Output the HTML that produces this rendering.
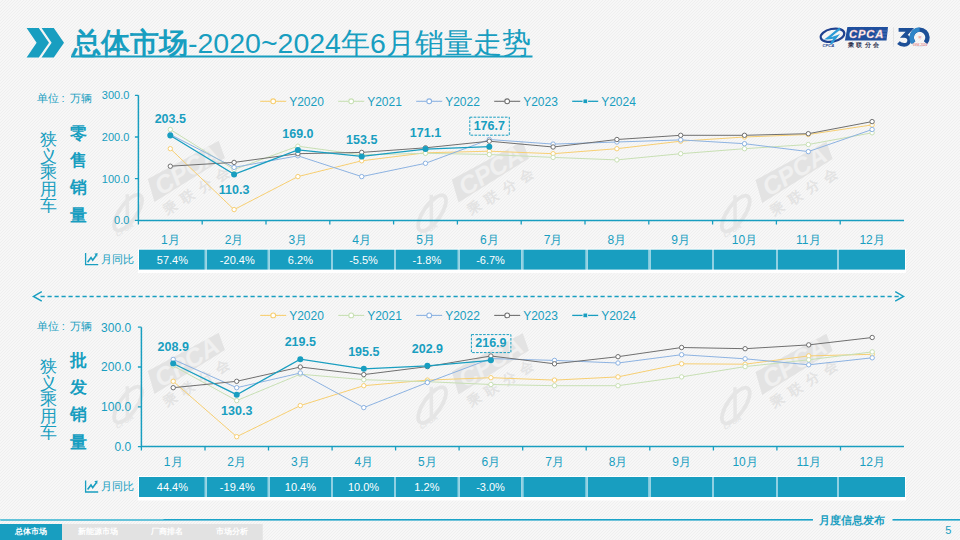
<!DOCTYPE html>
<html><head><meta charset="utf-8">
<style>
html,body{margin:0;padding:0;}
body{width:960px;height:540px;overflow:hidden;position:relative;font-family:"Liberation Sans",sans-serif;
background-color:#f6f6f6;}
svg{position:absolute;left:0;top:0;}
text{font-family:"Liberation Sans",sans-serif;}
</style></head><body>
<svg width="960" height="540" viewBox="0 0 960 540">
<defs>
<pattern id="bgp" x="0" y="0" width="3" height="3" patternUnits="userSpaceOnUse">
<rect width="3" height="3" fill="#f7f7f7"/>
<rect x="0" y="2" width="1" height="1" fill="#efefef"/><rect x="1" y="1" width="1" height="1" fill="#efefef"/><rect x="2" y="0" width="1" height="1" fill="#efefef"/>
</pattern>
<g id="wm">
<path d="M0 0L83 0L87 -18L6.5 -23Z" fill="#e3e3e3"/>
<text x="9" y="-1.5" font-size="25" font-style="italic" font-weight="bold" fill="#f0f0f0" style="font-family:'Liberation Sans',sans-serif">CPCA</text>
<text x="3.5" y="17.5" font-size="13.5" font-weight="bold" fill="#e3e3e3" letter-spacing="6.5">乘联分会</text>
<ellipse cx="-28" cy="-5" rx="21" ry="8.5" transform="rotate(-23 -28 -5)" fill="none" stroke="#e5e5e5" stroke-width="3.8"/>
<path d="M-19 -21C-24 -13 -30 -3 -37 8" stroke="#e6e6e6" stroke-width="3.5" fill="none"/>
<text x="-40" y="10" font-size="7" font-style="italic" font-weight="bold" fill="#e6e6e6" text-anchor="middle">CPCA</text>
</g>
</defs>
<rect width="960" height="540" fill="url(#bgp)" shape-rendering="crispEdges"/>
<use href="#wm" transform="translate(154.5 202) rotate(-32)"/>
<use href="#wm" transform="translate(458.5 202.5) rotate(-32)"/>
<use href="#wm" transform="translate(762.2 203) rotate(-32)"/>
<use href="#wm" transform="translate(154.5 394) rotate(-32)"/>
<use href="#wm" transform="translate(458.5 394.5) rotate(-32)"/>
<use href="#wm" transform="translate(762.2 395) rotate(-32)"/>
<!-- logo -->
<g>
<ellipse cx="832.5" cy="35.2" rx="12" ry="6.3" transform="rotate(-12 832.5 35.2)" fill="none" stroke="#20418f" stroke-width="2.2"/>
<path d="M840 28.5C836 31 831 36 827.5 38.5C831 38.5 834 37.5 836.5 36.5C834.5 39 832.5 41.5 831 44" stroke="#2b9ad6" stroke-width="2.2" fill="none"/>
<text x="822.5" y="47.2" font-size="4.2" font-style="italic" font-weight="bold" fill="#20418f">CPCA</text>
<path d="M847.4 27H888L886.5 40.4H844.9Z" fill="#1f4f9e"/>
<path d="M876 31H887.5M875 34H887M874 37H886.5" stroke="#4d78bb" stroke-width="1"/>
<text x="849" y="38.3" font-size="11.2" font-style="italic" font-weight="bold" letter-spacing="0.9" fill="#fff" stroke="#e9a0a0" stroke-width="0.3">CPCA</text>
<text x="848" y="47.3" font-size="6.3" font-weight="bold" fill="#2b2f4d" letter-spacing="2.4">乘联分会</text>
<rect x="893" y="27" width="0.8" height="20" fill="#e0e0e0"/>
<path d="M898.6 29.9H909.8L904.2 35.9C907.6 35.9 909.2 38 909.2 40.4C909.2 43.2 907 44.8 904.2 44.8C901.8 44.8 899.8 44 898.4 42.6" stroke="#1d4f97" stroke-width="3.7" fill="none"/>
<path d="M913.7 42.8A7.9 7.9 0 1 1 925.5 42.8" stroke="#1d4f97" stroke-width="4.4" fill="none"/>
<path d="M913.7 42.8A7.9 7.9 0 0 1 919.6 29.6" stroke="#2f86c8" stroke-width="4.4" fill="none"/>
<path d="M912.5 43.5A9.5 9.5 0 0 0 926.7 43.5" stroke="#d8e6f2" stroke-width="0.8" fill="none"/>
<text x="919.5" y="39.2" font-size="4" fill="#e05a5a" text-anchor="middle">年</text>
<text x="920" y="46.4" font-size="3" fill="#e05a5a" text-anchor="middle">1994-2024</text>
</g>
<!-- title -->
<path d="M26.6 28H38.8L49 42.7L38.8 57.5H26.6L36.6 42.7Z M41.6 28H53.8L64 42.7L53.8 57.5H41.6L51.6 42.7Z" fill="#189ec0"/>
<text x="72" y="52.5" font-size="28.5" fill="#189ec0"><tspan font-weight="bold">总体市场</tspan>-2020~2024年6月销量走势</text>
<rect x="71" y="55.5" width="461.5" height="2" fill="#189ec0"/>
<!-- left labels -->
<text y="102" font-size="11" fill="#189ec0"><tspan x="37">单位</tspan><tspan x="61.5">:</tspan><tspan x="69.5">万辆</tspan></text>
<text y="329.8" font-size="11" fill="#189ec0"><tspan x="37.3">单位</tspan><tspan x="61.8">:</tspan><tspan x="69.8">万辆</tspan></text>
<path d="M138.4 95.3V220.4H904.0" stroke="#189ec0" stroke-width="1.5" fill="none"/>
<path d="M134.9 95.3H138.4M134.9 137.0H138.4M134.9 178.7H138.4M134.9 220.4H138.4M138.4 220.4V224.4M202.2 220.4V224.4M266.0 220.4V224.4M329.8 220.4V224.4M393.6 220.4V224.4M457.4 220.4V224.4M521.2 220.4V224.4M585.0 220.4V224.4M648.8 220.4V224.4M712.6 220.4V224.4M776.4 220.4V224.4M840.2 220.4V224.4" stroke="#189ec0" stroke-width="1.3" fill="none"/>
<text x="129.4" y="99.3" text-anchor="end" font-size="11" fill="#189ec0">300.0</text>
<text x="129.4" y="141.0" text-anchor="end" font-size="11" fill="#189ec0">200.0</text>
<text x="129.4" y="182.7" text-anchor="end" font-size="11" fill="#189ec0">100.0</text>
<text x="129.4" y="224.4" text-anchor="end" font-size="11" fill="#189ec0">0.0</text>
<text x="170.3" y="244.2" text-anchor="middle" font-size="12" fill="#189ec0">1月</text>
<text x="234.1" y="244.2" text-anchor="middle" font-size="12" fill="#189ec0">2月</text>
<text x="297.9" y="244.2" text-anchor="middle" font-size="12" fill="#189ec0">3月</text>
<text x="361.7" y="244.2" text-anchor="middle" font-size="12" fill="#189ec0">4月</text>
<text x="425.5" y="244.2" text-anchor="middle" font-size="12" fill="#189ec0">5月</text>
<text x="489.3" y="244.2" text-anchor="middle" font-size="12" fill="#189ec0">6月</text>
<text x="553.1" y="244.2" text-anchor="middle" font-size="12" fill="#189ec0">7月</text>
<text x="616.9" y="244.2" text-anchor="middle" font-size="12" fill="#189ec0">8月</text>
<text x="680.7" y="244.2" text-anchor="middle" font-size="12" fill="#189ec0">9月</text>
<text x="744.5" y="244.2" text-anchor="middle" font-size="12" fill="#189ec0">10月</text>
<text x="808.3" y="244.2" text-anchor="middle" font-size="12" fill="#189ec0">11月</text>
<text x="872.1" y="244.2" text-anchor="middle" font-size="12" fill="#189ec0">12月</text>
<polyline points="170.3,148.7 234.1,209.6 297.9,176.6 361.7,160.8 425.5,152.8 489.3,151.2 553.1,153.7 616.9,148.7 680.7,141.2 744.5,137.0 808.3,134.5 872.1,124.9" stroke="#f7cf72" stroke-width="1.0" fill="none"/>
<circle cx="170.3" cy="148.7" r="2.2" fill="#fff" stroke="#f7cf72" stroke-width="1.0"/>
<circle cx="234.1" cy="209.6" r="2.2" fill="#fff" stroke="#f7cf72" stroke-width="1.0"/>
<circle cx="297.9" cy="176.6" r="2.2" fill="#fff" stroke="#f7cf72" stroke-width="1.0"/>
<circle cx="361.7" cy="160.8" r="2.2" fill="#fff" stroke="#f7cf72" stroke-width="1.0"/>
<circle cx="425.5" cy="152.8" r="2.2" fill="#fff" stroke="#f7cf72" stroke-width="1.0"/>
<circle cx="489.3" cy="151.2" r="2.2" fill="#fff" stroke="#f7cf72" stroke-width="1.0"/>
<circle cx="553.1" cy="153.7" r="2.2" fill="#fff" stroke="#f7cf72" stroke-width="1.0"/>
<circle cx="616.9" cy="148.7" r="2.2" fill="#fff" stroke="#f7cf72" stroke-width="1.0"/>
<circle cx="680.7" cy="141.2" r="2.2" fill="#fff" stroke="#f7cf72" stroke-width="1.0"/>
<circle cx="744.5" cy="137.0" r="2.2" fill="#fff" stroke="#f7cf72" stroke-width="1.0"/>
<circle cx="808.3" cy="134.5" r="2.2" fill="#fff" stroke="#f7cf72" stroke-width="1.0"/>
<circle cx="872.1" cy="124.9" r="2.2" fill="#fff" stroke="#f7cf72" stroke-width="1.0"/>
<polyline points="170.3,129.5 234.1,169.5 297.9,146.2 361.7,154.9 425.5,153.3 489.3,154.5 553.1,157.4 616.9,159.9 680.7,153.7 744.5,148.7 808.3,144.5 872.1,132.8" stroke="#c8e0b4" stroke-width="1.0" fill="none"/>
<circle cx="170.3" cy="129.5" r="2.2" fill="#fff" stroke="#c8e0b4" stroke-width="1.0"/>
<circle cx="234.1" cy="169.5" r="2.2" fill="#fff" stroke="#c8e0b4" stroke-width="1.0"/>
<circle cx="297.9" cy="146.2" r="2.2" fill="#fff" stroke="#c8e0b4" stroke-width="1.0"/>
<circle cx="361.7" cy="154.9" r="2.2" fill="#fff" stroke="#c8e0b4" stroke-width="1.0"/>
<circle cx="425.5" cy="153.3" r="2.2" fill="#fff" stroke="#c8e0b4" stroke-width="1.0"/>
<circle cx="489.3" cy="154.5" r="2.2" fill="#fff" stroke="#c8e0b4" stroke-width="1.0"/>
<circle cx="553.1" cy="157.4" r="2.2" fill="#fff" stroke="#c8e0b4" stroke-width="1.0"/>
<circle cx="616.9" cy="159.9" r="2.2" fill="#fff" stroke="#c8e0b4" stroke-width="1.0"/>
<circle cx="680.7" cy="153.7" r="2.2" fill="#fff" stroke="#c8e0b4" stroke-width="1.0"/>
<circle cx="744.5" cy="148.7" r="2.2" fill="#fff" stroke="#c8e0b4" stroke-width="1.0"/>
<circle cx="808.3" cy="144.5" r="2.2" fill="#fff" stroke="#c8e0b4" stroke-width="1.0"/>
<circle cx="872.1" cy="132.8" r="2.2" fill="#fff" stroke="#c8e0b4" stroke-width="1.0"/>
<polyline points="170.3,134.5 234.1,167.4 297.9,155.8 361.7,176.6 425.5,163.3 489.3,139.5 553.1,144.1 616.9,142.0 680.7,139.9 744.5,143.7 808.3,151.6 872.1,129.5" stroke="#8db3e2" stroke-width="1.0" fill="none"/>
<circle cx="170.3" cy="134.5" r="2.2" fill="#fff" stroke="#8db3e2" stroke-width="1.0"/>
<circle cx="234.1" cy="167.4" r="2.2" fill="#fff" stroke="#8db3e2" stroke-width="1.0"/>
<circle cx="297.9" cy="155.8" r="2.2" fill="#fff" stroke="#8db3e2" stroke-width="1.0"/>
<circle cx="361.7" cy="176.6" r="2.2" fill="#fff" stroke="#8db3e2" stroke-width="1.0"/>
<circle cx="425.5" cy="163.3" r="2.2" fill="#fff" stroke="#8db3e2" stroke-width="1.0"/>
<circle cx="489.3" cy="139.5" r="2.2" fill="#fff" stroke="#8db3e2" stroke-width="1.0"/>
<circle cx="553.1" cy="144.1" r="2.2" fill="#fff" stroke="#8db3e2" stroke-width="1.0"/>
<circle cx="616.9" cy="142.0" r="2.2" fill="#fff" stroke="#8db3e2" stroke-width="1.0"/>
<circle cx="680.7" cy="139.9" r="2.2" fill="#fff" stroke="#8db3e2" stroke-width="1.0"/>
<circle cx="744.5" cy="143.7" r="2.2" fill="#fff" stroke="#8db3e2" stroke-width="1.0"/>
<circle cx="808.3" cy="151.6" r="2.2" fill="#fff" stroke="#8db3e2" stroke-width="1.0"/>
<circle cx="872.1" cy="129.5" r="2.2" fill="#fff" stroke="#8db3e2" stroke-width="1.0"/>
<polyline points="170.3,166.2 234.1,162.4 297.9,153.7 361.7,152.4 425.5,147.8 489.3,141.2 553.1,147.0 616.9,139.5 680.7,135.3 744.5,135.3 808.3,133.7 872.1,121.6" stroke="#6f6f6f" stroke-width="1.0" fill="none"/>
<circle cx="170.3" cy="166.2" r="2.2" fill="#fff" stroke="#6f6f6f" stroke-width="1.0"/>
<circle cx="234.1" cy="162.4" r="2.2" fill="#fff" stroke="#6f6f6f" stroke-width="1.0"/>
<circle cx="297.9" cy="153.7" r="2.2" fill="#fff" stroke="#6f6f6f" stroke-width="1.0"/>
<circle cx="361.7" cy="152.4" r="2.2" fill="#fff" stroke="#6f6f6f" stroke-width="1.0"/>
<circle cx="425.5" cy="147.8" r="2.2" fill="#fff" stroke="#6f6f6f" stroke-width="1.0"/>
<circle cx="489.3" cy="141.2" r="2.2" fill="#fff" stroke="#6f6f6f" stroke-width="1.0"/>
<circle cx="553.1" cy="147.0" r="2.2" fill="#fff" stroke="#6f6f6f" stroke-width="1.0"/>
<circle cx="616.9" cy="139.5" r="2.2" fill="#fff" stroke="#6f6f6f" stroke-width="1.0"/>
<circle cx="680.7" cy="135.3" r="2.2" fill="#fff" stroke="#6f6f6f" stroke-width="1.0"/>
<circle cx="744.5" cy="135.3" r="2.2" fill="#fff" stroke="#6f6f6f" stroke-width="1.0"/>
<circle cx="808.3" cy="133.7" r="2.2" fill="#fff" stroke="#6f6f6f" stroke-width="1.0"/>
<circle cx="872.1" cy="121.6" r="2.2" fill="#fff" stroke="#6f6f6f" stroke-width="1.0"/>
<polyline points="170.3,135.5 234.1,174.4 297.9,149.9 361.7,156.4 425.5,149.1 489.3,146.7" stroke="#189ec0" stroke-width="1.3" fill="none"/>
<circle cx="170.3" cy="135.5" r="3.0" fill="#189ec0"/>
<circle cx="234.1" cy="174.4" r="3.0" fill="#189ec0"/>
<circle cx="297.9" cy="149.9" r="3.0" fill="#189ec0"/>
<circle cx="361.7" cy="156.4" r="3.0" fill="#189ec0"/>
<circle cx="425.5" cy="149.1" r="3.0" fill="#189ec0"/>
<circle cx="489.3" cy="146.7" r="3.0" fill="#189ec0"/>
<text x="170.3" y="123.0" text-anchor="middle" font-size="12.5" font-weight="bold" fill="#189ec0">203.5</text>
<text x="234.1" y="194.4" text-anchor="middle" font-size="12.5" font-weight="bold" fill="#189ec0">110.3</text>
<text x="297.9" y="137.9" text-anchor="middle" font-size="12.5" font-weight="bold" fill="#189ec0">169.0</text>
<text x="361.7" y="143.6" text-anchor="middle" font-size="12.5" font-weight="bold" fill="#189ec0">153.5</text>
<text x="425.5" y="136.9" text-anchor="middle" font-size="12.5" font-weight="bold" fill="#189ec0">171.1</text>
<text x="489.3" y="129.7" text-anchor="middle" font-size="12.5" font-weight="bold" fill="#189ec0">176.7</text>
<rect x="469.8" y="117.2" width="39.5" height="18" fill="none" stroke="#189ec0" stroke-width="1" stroke-dasharray="2.6 1.3"/>
<line x1="260.2" y1="101.3" x2="286.2" y2="101.3" stroke="#f7cf72" stroke-width="1.1"/>
<circle cx="273.2" cy="101.3" r="2.4" fill="#fff" stroke="#f7cf72" stroke-width="1.1"/>
<text x="289.2" y="105.6" font-size="12" fill="#189ec0">Y2020</text>
<line x1="338.2" y1="101.3" x2="364.2" y2="101.3" stroke="#c8e0b4" stroke-width="1.1"/>
<circle cx="351.2" cy="101.3" r="2.4" fill="#fff" stroke="#c8e0b4" stroke-width="1.1"/>
<text x="367.2" y="105.6" font-size="12" fill="#189ec0">Y2021</text>
<line x1="416.2" y1="101.3" x2="442.2" y2="101.3" stroke="#8db3e2" stroke-width="1.1"/>
<circle cx="429.2" cy="101.3" r="2.4" fill="#fff" stroke="#8db3e2" stroke-width="1.1"/>
<text x="445.2" y="105.6" font-size="12" fill="#189ec0">Y2022</text>
<line x1="494.2" y1="101.3" x2="520.2" y2="101.3" stroke="#6f6f6f" stroke-width="1.1"/>
<circle cx="507.2" cy="101.3" r="2.4" fill="#fff" stroke="#6f6f6f" stroke-width="1.1"/>
<text x="523.2" y="105.6" font-size="12" fill="#189ec0">Y2023</text>
<line x1="572.2" y1="101.3" x2="598.2" y2="101.3" stroke="#189ec0" stroke-width="1.3"/>
<rect x="583.0" y="99.0" width="4.6" height="4.6" rx="1" fill="#189ec0" stroke="#f6f6f6" stroke-width="0.9"/>
<text x="601.2" y="105.6" font-size="12" fill="#189ec0">Y2024</text>
<rect x="138" y="248.7" width="768" height="24.4" fill="#fff"/>
<rect x="139.0" y="249.7" width="65.8" height="19.9" fill="#189ec0"/>
<rect x="206.8" y="249.7" width="61.0" height="19.9" fill="#189ec0"/>
<rect x="269.8" y="249.7" width="61.2" height="19.9" fill="#189ec0"/>
<rect x="333.0" y="249.7" width="61.0" height="19.9" fill="#189ec0"/>
<rect x="396.0" y="249.7" width="61.8" height="19.9" fill="#189ec0"/>
<rect x="459.8" y="249.7" width="61.5" height="19.9" fill="#189ec0"/>
<rect x="523.3" y="249.7" width="62.4" height="19.9" fill="#189ec0"/>
<rect x="587.7" y="249.7" width="60.9" height="19.9" fill="#189ec0"/>
<rect x="650.6" y="249.7" width="61.4" height="19.9" fill="#189ec0"/>
<rect x="714.0" y="249.7" width="62.0" height="19.9" fill="#189ec0"/>
<rect x="778.0" y="249.7" width="59.0" height="19.9" fill="#189ec0"/>
<rect x="839.0" y="249.7" width="66.0" height="19.9" fill="#189ec0"/>
<rect x="204.8" y="249.7" width="2" height="19.9" fill="#8fd0e2"/>
<rect x="267.8" y="249.7" width="2" height="19.9" fill="#8fd0e2"/>
<rect x="331.0" y="249.7" width="2" height="19.9" fill="#8fd0e2"/>
<rect x="394.0" y="249.7" width="2" height="19.9" fill="#8fd0e2"/>
<rect x="457.8" y="249.7" width="2" height="19.9" fill="#8fd0e2"/>
<rect x="521.3" y="249.7" width="2" height="19.9" fill="#8fd0e2"/>
<rect x="585.7" y="249.7" width="2" height="19.9" fill="#8fd0e2"/>
<rect x="648.6" y="249.7" width="2" height="19.9" fill="#8fd0e2"/>
<rect x="712.0" y="249.7" width="2" height="19.9" fill="#8fd0e2"/>
<rect x="776.0" y="249.7" width="2" height="19.9" fill="#8fd0e2"/>
<rect x="837.0" y="249.7" width="2" height="19.9" fill="#8fd0e2"/>
<text x="172.4" y="263.6" text-anchor="middle" font-size="11" fill="#fff">57.4%</text>
<text x="237.3" y="263.6" text-anchor="middle" font-size="11" fill="#fff">-20.4%</text>
<text x="300.4" y="263.6" text-anchor="middle" font-size="11" fill="#fff">6.2%</text>
<text x="363.5" y="263.6" text-anchor="middle" font-size="11" fill="#fff">-5.5%</text>
<text x="426.9" y="263.6" text-anchor="middle" font-size="11" fill="#fff">-1.8%</text>
<text x="490.5" y="263.6" text-anchor="middle" font-size="11" fill="#fff">-6.7%</text>
<text x="48.2" y="145.0" text-anchor="middle" font-size="17" fill="#189ec0" font-weight="300">狭</text>
<text x="48.2" y="161.5" text-anchor="middle" font-size="17" fill="#189ec0" font-weight="300">义</text>
<text x="48.2" y="178.0" text-anchor="middle" font-size="17" fill="#189ec0" font-weight="300">乘</text>
<text x="48.2" y="194.5" text-anchor="middle" font-size="17" fill="#189ec0" font-weight="300">用</text>
<text x="48.2" y="211.0" text-anchor="middle" font-size="17" fill="#189ec0" font-weight="300">车</text>
<text x="78.2" y="139.0" text-anchor="middle" font-size="17" font-weight="bold" fill="#189ec0">零</text>
<text x="78.2" y="166.2" text-anchor="middle" font-size="17" font-weight="bold" fill="#189ec0">售</text>
<text x="78.2" y="193.4" text-anchor="middle" font-size="17" font-weight="bold" fill="#189ec0">销</text>
<text x="78.2" y="220.6" text-anchor="middle" font-size="17" font-weight="bold" fill="#189ec0">量</text>
<path d="M85.6 253.1V264.6H98.2" stroke="#189ec0" stroke-width="1.3" fill="none"/>
<path d="M87.6 262.2L91 257.6L92.7 260.2L96.3 255.3" stroke="#189ec0" stroke-width="1.6" fill="none"/>
<path d="M94.3 253.8L97.6 253.0L97.2 256.6Z" fill="#189ec0"/>
<text x="101.2" y="263.0" font-size="11.2" fill="#189ec0" style="font-weight:500">月同比</text>
<path d="M141.4 327.2V446.6H904.0" stroke="#189ec0" stroke-width="1.5" fill="none"/>
<path d="M137.9 327.2H141.4M137.9 367.0H141.4M137.9 406.8H141.4M137.9 446.6H141.4M141.4 446.6V450.6M205.0 446.6V450.6M268.5 446.6V450.6M332.1 446.6V450.6M395.6 446.6V450.6M459.1 446.6V450.6M522.7 446.6V450.6M586.2 446.6V450.6M649.8 446.6V450.6M713.4 446.6V450.6M776.9 446.6V450.6M840.5 446.6V450.6" stroke="#189ec0" stroke-width="1.3" fill="none"/>
<text x="131.1" y="331.6" text-anchor="end" font-size="12" fill="#189ec0">300.0</text>
<text x="131.1" y="371.4" text-anchor="end" font-size="12" fill="#189ec0">200.0</text>
<text x="131.1" y="411.2" text-anchor="end" font-size="12" fill="#189ec0">100.0</text>
<text x="131.1" y="451.0" text-anchor="end" font-size="12" fill="#189ec0">0.0</text>
<text x="173.2" y="466.2" text-anchor="middle" font-size="12" fill="#189ec0">1月</text>
<text x="236.7" y="466.2" text-anchor="middle" font-size="12" fill="#189ec0">2月</text>
<text x="300.3" y="466.2" text-anchor="middle" font-size="12" fill="#189ec0">3月</text>
<text x="363.8" y="466.2" text-anchor="middle" font-size="12" fill="#189ec0">4月</text>
<text x="427.4" y="466.2" text-anchor="middle" font-size="12" fill="#189ec0">5月</text>
<text x="490.9" y="466.2" text-anchor="middle" font-size="12" fill="#189ec0">6月</text>
<text x="554.5" y="466.2" text-anchor="middle" font-size="12" fill="#189ec0">7月</text>
<text x="618.0" y="466.2" text-anchor="middle" font-size="12" fill="#189ec0">8月</text>
<text x="681.6" y="466.2" text-anchor="middle" font-size="12" fill="#189ec0">9月</text>
<text x="745.1" y="466.2" text-anchor="middle" font-size="12" fill="#189ec0">10月</text>
<text x="808.7" y="466.2" text-anchor="middle" font-size="12" fill="#189ec0">11月</text>
<text x="872.2" y="466.2" text-anchor="middle" font-size="12" fill="#189ec0">12月</text>
<polyline points="173.2,381.3 236.7,436.7 300.3,405.6 363.8,385.7 427.4,380.1 490.9,377.7 554.5,380.1 618.0,376.9 681.6,363.8 745.1,364.2 808.7,355.9 872.2,354.3" stroke="#f7cf72" stroke-width="1.0" fill="none"/>
<circle cx="173.2" cy="381.3" r="2.2" fill="#fff" stroke="#f7cf72" stroke-width="1.0"/>
<circle cx="236.7" cy="436.7" r="2.2" fill="#fff" stroke="#f7cf72" stroke-width="1.0"/>
<circle cx="300.3" cy="405.6" r="2.2" fill="#fff" stroke="#f7cf72" stroke-width="1.0"/>
<circle cx="363.8" cy="385.7" r="2.2" fill="#fff" stroke="#f7cf72" stroke-width="1.0"/>
<circle cx="427.4" cy="380.1" r="2.2" fill="#fff" stroke="#f7cf72" stroke-width="1.0"/>
<circle cx="490.9" cy="377.7" r="2.2" fill="#fff" stroke="#f7cf72" stroke-width="1.0"/>
<circle cx="554.5" cy="380.1" r="2.2" fill="#fff" stroke="#f7cf72" stroke-width="1.0"/>
<circle cx="618.0" cy="376.9" r="2.2" fill="#fff" stroke="#f7cf72" stroke-width="1.0"/>
<circle cx="681.6" cy="363.8" r="2.2" fill="#fff" stroke="#f7cf72" stroke-width="1.0"/>
<circle cx="745.1" cy="364.2" r="2.2" fill="#fff" stroke="#f7cf72" stroke-width="1.0"/>
<circle cx="808.7" cy="355.9" r="2.2" fill="#fff" stroke="#f7cf72" stroke-width="1.0"/>
<circle cx="872.2" cy="354.3" r="2.2" fill="#fff" stroke="#f7cf72" stroke-width="1.0"/>
<polyline points="173.2,365.8 236.7,400.6 300.3,374.2 363.8,379.7 427.4,381.7 490.9,384.5 554.5,385.7 618.0,385.7 681.6,376.9 745.1,366.6 808.7,359.8 872.2,351.9" stroke="#c8e0b4" stroke-width="1.0" fill="none"/>
<circle cx="173.2" cy="365.8" r="2.2" fill="#fff" stroke="#c8e0b4" stroke-width="1.0"/>
<circle cx="236.7" cy="400.6" r="2.2" fill="#fff" stroke="#c8e0b4" stroke-width="1.0"/>
<circle cx="300.3" cy="374.2" r="2.2" fill="#fff" stroke="#c8e0b4" stroke-width="1.0"/>
<circle cx="363.8" cy="379.7" r="2.2" fill="#fff" stroke="#c8e0b4" stroke-width="1.0"/>
<circle cx="427.4" cy="381.7" r="2.2" fill="#fff" stroke="#c8e0b4" stroke-width="1.0"/>
<circle cx="490.9" cy="384.5" r="2.2" fill="#fff" stroke="#c8e0b4" stroke-width="1.0"/>
<circle cx="554.5" cy="385.7" r="2.2" fill="#fff" stroke="#c8e0b4" stroke-width="1.0"/>
<circle cx="618.0" cy="385.7" r="2.2" fill="#fff" stroke="#c8e0b4" stroke-width="1.0"/>
<circle cx="681.6" cy="376.9" r="2.2" fill="#fff" stroke="#c8e0b4" stroke-width="1.0"/>
<circle cx="745.1" cy="366.6" r="2.2" fill="#fff" stroke="#c8e0b4" stroke-width="1.0"/>
<circle cx="808.7" cy="359.8" r="2.2" fill="#fff" stroke="#c8e0b4" stroke-width="1.0"/>
<circle cx="872.2" cy="351.9" r="2.2" fill="#fff" stroke="#c8e0b4" stroke-width="1.0"/>
<polyline points="173.2,359.4 236.7,387.7 300.3,373.0 363.8,407.6 427.4,382.5 490.9,358.6 554.5,360.4 618.0,363.0 681.6,354.7 745.1,358.8 808.7,364.8 872.2,357.8" stroke="#8db3e2" stroke-width="1.0" fill="none"/>
<circle cx="173.2" cy="359.4" r="2.2" fill="#fff" stroke="#8db3e2" stroke-width="1.0"/>
<circle cx="236.7" cy="387.7" r="2.2" fill="#fff" stroke="#8db3e2" stroke-width="1.0"/>
<circle cx="300.3" cy="373.0" r="2.2" fill="#fff" stroke="#8db3e2" stroke-width="1.0"/>
<circle cx="363.8" cy="407.6" r="2.2" fill="#fff" stroke="#8db3e2" stroke-width="1.0"/>
<circle cx="427.4" cy="382.5" r="2.2" fill="#fff" stroke="#8db3e2" stroke-width="1.0"/>
<circle cx="490.9" cy="358.6" r="2.2" fill="#fff" stroke="#8db3e2" stroke-width="1.0"/>
<circle cx="554.5" cy="360.4" r="2.2" fill="#fff" stroke="#8db3e2" stroke-width="1.0"/>
<circle cx="618.0" cy="363.0" r="2.2" fill="#fff" stroke="#8db3e2" stroke-width="1.0"/>
<circle cx="681.6" cy="354.7" r="2.2" fill="#fff" stroke="#8db3e2" stroke-width="1.0"/>
<circle cx="745.1" cy="358.8" r="2.2" fill="#fff" stroke="#8db3e2" stroke-width="1.0"/>
<circle cx="808.7" cy="364.8" r="2.2" fill="#fff" stroke="#8db3e2" stroke-width="1.0"/>
<circle cx="872.2" cy="357.8" r="2.2" fill="#fff" stroke="#8db3e2" stroke-width="1.0"/>
<polyline points="173.2,387.7 236.7,381.3 300.3,367.0 363.8,374.6 427.4,366.6 490.9,356.0 554.5,363.8 618.0,356.7 681.6,347.5 745.1,348.7 808.7,344.9 872.2,337.5" stroke="#6f6f6f" stroke-width="1.0" fill="none"/>
<circle cx="173.2" cy="387.7" r="2.2" fill="#fff" stroke="#6f6f6f" stroke-width="1.0"/>
<circle cx="236.7" cy="381.3" r="2.2" fill="#fff" stroke="#6f6f6f" stroke-width="1.0"/>
<circle cx="300.3" cy="367.0" r="2.2" fill="#fff" stroke="#6f6f6f" stroke-width="1.0"/>
<circle cx="363.8" cy="374.6" r="2.2" fill="#fff" stroke="#6f6f6f" stroke-width="1.0"/>
<circle cx="427.4" cy="366.6" r="2.2" fill="#fff" stroke="#6f6f6f" stroke-width="1.0"/>
<circle cx="490.9" cy="356.0" r="2.2" fill="#fff" stroke="#6f6f6f" stroke-width="1.0"/>
<circle cx="554.5" cy="363.8" r="2.2" fill="#fff" stroke="#6f6f6f" stroke-width="1.0"/>
<circle cx="618.0" cy="356.7" r="2.2" fill="#fff" stroke="#6f6f6f" stroke-width="1.0"/>
<circle cx="681.6" cy="347.5" r="2.2" fill="#fff" stroke="#6f6f6f" stroke-width="1.0"/>
<circle cx="745.1" cy="348.7" r="2.2" fill="#fff" stroke="#6f6f6f" stroke-width="1.0"/>
<circle cx="808.7" cy="344.9" r="2.2" fill="#fff" stroke="#6f6f6f" stroke-width="1.0"/>
<circle cx="872.2" cy="337.5" r="2.2" fill="#fff" stroke="#6f6f6f" stroke-width="1.0"/>
<polyline points="173.2,363.5 236.7,394.7 300.3,359.2 363.8,368.8 427.4,365.8 490.9,360.3" stroke="#189ec0" stroke-width="1.3" fill="none"/>
<circle cx="173.2" cy="363.5" r="3.0" fill="#189ec0"/>
<circle cx="236.7" cy="394.7" r="3.0" fill="#189ec0"/>
<circle cx="300.3" cy="359.2" r="3.0" fill="#189ec0"/>
<circle cx="363.8" cy="368.8" r="3.0" fill="#189ec0"/>
<circle cx="427.4" cy="365.8" r="3.0" fill="#189ec0"/>
<circle cx="490.9" cy="360.3" r="3.0" fill="#189ec0"/>
<text x="173.2" y="350.5" text-anchor="middle" font-size="12.5" font-weight="bold" fill="#189ec0">208.9</text>
<text x="236.7" y="415.2" text-anchor="middle" font-size="12.5" font-weight="bold" fill="#189ec0">130.3</text>
<text x="300.3" y="346.2" text-anchor="middle" font-size="12.5" font-weight="bold" fill="#189ec0">219.5</text>
<text x="363.8" y="355.8" text-anchor="middle" font-size="12.5" font-weight="bold" fill="#189ec0">195.5</text>
<text x="427.4" y="352.8" text-anchor="middle" font-size="12.5" font-weight="bold" fill="#189ec0">202.9</text>
<text x="490.9" y="347.1" text-anchor="middle" font-size="12.5" font-weight="bold" fill="#189ec0">216.9</text>
<rect x="471.4" y="334.6" width="39.5" height="18" fill="none" stroke="#189ec0" stroke-width="1" stroke-dasharray="2.6 1.3"/>
<line x1="260.2" y1="315.4" x2="286.2" y2="315.4" stroke="#f7cf72" stroke-width="1.1"/>
<circle cx="273.2" cy="315.4" r="2.4" fill="#fff" stroke="#f7cf72" stroke-width="1.1"/>
<text x="289.2" y="319.7" font-size="12" fill="#189ec0">Y2020</text>
<line x1="338.2" y1="315.4" x2="364.2" y2="315.4" stroke="#c8e0b4" stroke-width="1.1"/>
<circle cx="351.2" cy="315.4" r="2.4" fill="#fff" stroke="#c8e0b4" stroke-width="1.1"/>
<text x="367.2" y="319.7" font-size="12" fill="#189ec0">Y2021</text>
<line x1="416.2" y1="315.4" x2="442.2" y2="315.4" stroke="#8db3e2" stroke-width="1.1"/>
<circle cx="429.2" cy="315.4" r="2.4" fill="#fff" stroke="#8db3e2" stroke-width="1.1"/>
<text x="445.2" y="319.7" font-size="12" fill="#189ec0">Y2022</text>
<line x1="494.2" y1="315.4" x2="520.2" y2="315.4" stroke="#6f6f6f" stroke-width="1.1"/>
<circle cx="507.2" cy="315.4" r="2.4" fill="#fff" stroke="#6f6f6f" stroke-width="1.1"/>
<text x="523.2" y="319.7" font-size="12" fill="#189ec0">Y2023</text>
<line x1="572.2" y1="315.4" x2="598.2" y2="315.4" stroke="#189ec0" stroke-width="1.3"/>
<rect x="583.0" y="313.09999999999997" width="4.6" height="4.6" rx="1" fill="#189ec0" stroke="#f6f6f6" stroke-width="0.9"/>
<text x="601.2" y="319.7" font-size="12" fill="#189ec0">Y2024</text>
<rect x="138" y="476" width="768" height="24.5" fill="#fff"/>
<rect x="139.0" y="477" width="65.8" height="20.0" fill="#189ec0"/>
<rect x="206.8" y="477" width="61.0" height="20.0" fill="#189ec0"/>
<rect x="269.8" y="477" width="61.2" height="20.0" fill="#189ec0"/>
<rect x="333.0" y="477" width="61.0" height="20.0" fill="#189ec0"/>
<rect x="396.0" y="477" width="61.8" height="20.0" fill="#189ec0"/>
<rect x="459.8" y="477" width="61.5" height="20.0" fill="#189ec0"/>
<rect x="523.3" y="477" width="62.4" height="20.0" fill="#189ec0"/>
<rect x="587.7" y="477" width="60.9" height="20.0" fill="#189ec0"/>
<rect x="650.6" y="477" width="61.4" height="20.0" fill="#189ec0"/>
<rect x="714.0" y="477" width="62.0" height="20.0" fill="#189ec0"/>
<rect x="778.0" y="477" width="59.0" height="20.0" fill="#189ec0"/>
<rect x="839.0" y="477" width="66.0" height="20.0" fill="#189ec0"/>
<rect x="204.8" y="477" width="2" height="20.0" fill="#8fd0e2"/>
<rect x="267.8" y="477" width="2" height="20.0" fill="#8fd0e2"/>
<rect x="331.0" y="477" width="2" height="20.0" fill="#8fd0e2"/>
<rect x="394.0" y="477" width="2" height="20.0" fill="#8fd0e2"/>
<rect x="457.8" y="477" width="2" height="20.0" fill="#8fd0e2"/>
<rect x="521.3" y="477" width="2" height="20.0" fill="#8fd0e2"/>
<rect x="585.7" y="477" width="2" height="20.0" fill="#8fd0e2"/>
<rect x="648.6" y="477" width="2" height="20.0" fill="#8fd0e2"/>
<rect x="712.0" y="477" width="2" height="20.0" fill="#8fd0e2"/>
<rect x="776.0" y="477" width="2" height="20.0" fill="#8fd0e2"/>
<rect x="837.0" y="477" width="2" height="20.0" fill="#8fd0e2"/>
<text x="172.4" y="491.0" text-anchor="middle" font-size="11" fill="#fff">44.4%</text>
<text x="237.3" y="491.0" text-anchor="middle" font-size="11" fill="#fff">-19.4%</text>
<text x="300.4" y="491.0" text-anchor="middle" font-size="11" fill="#fff">10.4%</text>
<text x="363.5" y="491.0" text-anchor="middle" font-size="11" fill="#fff">10.0%</text>
<text x="426.9" y="491.0" text-anchor="middle" font-size="11" fill="#fff">1.2%</text>
<text x="490.5" y="491.0" text-anchor="middle" font-size="11" fill="#fff">-3.0%</text>
<text x="48.2" y="372.0" text-anchor="middle" font-size="17" fill="#189ec0" font-weight="300">狭</text>
<text x="48.2" y="388.5" text-anchor="middle" font-size="17" fill="#189ec0" font-weight="300">义</text>
<text x="48.2" y="405.0" text-anchor="middle" font-size="17" fill="#189ec0" font-weight="300">乘</text>
<text x="48.2" y="421.5" text-anchor="middle" font-size="17" fill="#189ec0" font-weight="300">用</text>
<text x="48.2" y="438.0" text-anchor="middle" font-size="17" fill="#189ec0" font-weight="300">车</text>
<text x="78.2" y="366.0" text-anchor="middle" font-size="17" font-weight="bold" fill="#189ec0">批</text>
<text x="78.2" y="393.2" text-anchor="middle" font-size="17" font-weight="bold" fill="#189ec0">发</text>
<text x="78.2" y="420.4" text-anchor="middle" font-size="17" font-weight="bold" fill="#189ec0">销</text>
<text x="78.2" y="447.6" text-anchor="middle" font-size="17" font-weight="bold" fill="#189ec0">量</text>
<path d="M85.6 480.5V492.0H98.2" stroke="#189ec0" stroke-width="1.3" fill="none"/>
<path d="M87.6 489.6L91 485.0L92.7 487.6L96.3 482.7" stroke="#189ec0" stroke-width="1.6" fill="none"/>
<path d="M94.3 481.2L97.6 480.4L97.2 484.0Z" fill="#189ec0"/>
<text x="101.2" y="490.4" font-size="11.2" fill="#189ec0" style="font-weight:500">月同比</text>
<!-- divider arrow -->
<path d="M40.5 296.4H901" stroke="#189ec0" stroke-width="1.5" stroke-dasharray="4.2 2.8"/>
<path d="M41.8 291.7L33.5 296.4L41.8 301.2 M895.2 291.7L903.5 296.4L895.2 301.2" stroke="#189ec0" stroke-width="1.5" fill="none"/>
<!-- footer -->
<rect x="0.5" y="519" width="812.5" height="1.6" fill="#1aa3c8"/>
<rect x="0.5" y="519" width="163" height="1.6" fill="#62c3da"/>
<rect x="892.5" y="519" width="67.5" height="1.6" fill="#1aa3c8"/>
<rect x="0" y="524" width="62" height="16" fill="#189ec0"/>
<rect x="62" y="524" width="200.7" height="16" fill="#e2e2e2"/>
<g font-size="8" font-weight="bold" fill="#fff" text-anchor="middle">
<text x="31.2" y="533.5">总体市场</text><text x="97.9" y="533.5">新能源市场</text><text x="166.9" y="533.5">厂商排名</text><text x="231.9" y="533.5">市场分析</text>
</g>
<text x="852" y="523.5" font-size="10.5" fill="#189ec0" text-anchor="middle" style="font-family:'Liberation Serif',serif;font-weight:600">月度信息发布</text>
<text x="948.2" y="534" font-size="11" fill="#189ec0" text-anchor="middle">5</text>
</svg>
</body></html>
